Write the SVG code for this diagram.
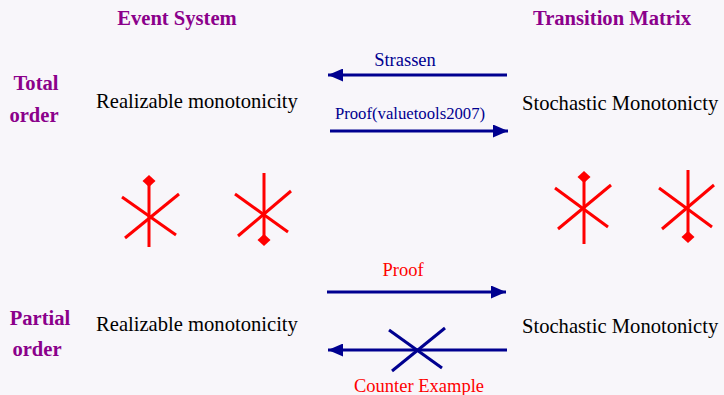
<svg xmlns="http://www.w3.org/2000/svg" width="724" height="395" viewBox="0 0 724 395">
<style>
.hdr{font-family:"Liberation Serif","Times New Roman",serif;font-weight:bold;font-size:20.6px;fill:#8b008b}
.node{font-family:"Liberation Serif","Times New Roman",serif;font-size:20.6px;fill:#000}
.lbl{font-family:"Liberation Serif","Times New Roman",serif;font-size:18.5px}
.navy{fill:#000090}
.red{fill:#ff0000}
.arr{stroke:#000090;stroke-width:3;fill:none}
.star{stroke:#ff0000;stroke-width:3;fill:none}
</style>
<defs>
<marker id="ah" markerUnits="userSpaceOnUse" markerWidth="15" markerHeight="13" refX="15" refY="6.5" orient="auto"><path d="M0,0 L15,6.5 L0,13 z" fill="#000090"/></marker>
<path id="dm" d="M0,-6 L6.5,0 L0,6 L-6.5,0 z" fill="#ff0000" stroke="none"/>
</defs>
<rect width="724" height="395" fill="#f8f6fa"/>
<g id="headers">
<text class="hdr" x="177" y="25" text-anchor="middle">Event System</text>
<text class="hdr" x="612" y="25" text-anchor="middle">Transition Matrix</text>
<text class="hdr" x="36" y="90" text-anchor="middle">Total</text>
<text class="hdr" x="34" y="122" text-anchor="middle">order</text>
<text class="hdr" x="40" y="325" text-anchor="middle">Partial</text>
<text class="hdr" x="37" y="356" text-anchor="middle">order</text>
</g>
<g id="es-total"><text class="node" x="96" y="108">Realizable monotonicity</text></g>
<g id="tm-total"><text class="node" x="522" y="110">Stochastic Monotonicty</text></g>
<g id="es-partial"><text class="node" x="96" y="331">Realizable monotonicity</text></g>
<g id="tm-partial"><text class="node" x="522" y="333">Stochastic Monotonicty</text></g>
<g id="connectors">
<line class="arr" x1="507" y1="75" x2="328" y2="75" marker-end="url(#ah)"/>
<text class="lbl navy" x="405" y="66" text-anchor="middle">Strassen</text>
<line class="arr" x1="330" y1="131" x2="508" y2="131" marker-end="url(#ah)"/>
<text class="lbl navy" x="410" y="119" text-anchor="middle" style="font-size:16.7px">Proof(valuetools2007)</text>
<line class="arr" x1="327" y1="292" x2="506" y2="292" marker-end="url(#ah)"/>
<text class="lbl red" x="403" y="276" text-anchor="middle">Proof</text>
<line class="arr" x1="507" y1="350" x2="328" y2="350" marker-end="url(#ah)"/>
<line class="arr" x1="389" y1="330" x2="442" y2="368"/>
<line class="arr" x1="392" y1="371" x2="445" y2="328"/>
<text class="lbl red" x="419" y="392" text-anchor="middle">Counter Example</text>
</g>
<g id="star1" class="star">
<line x1="149" y1="247" x2="149" y2="180"/>
<line x1="122" y1="197" x2="176" y2="235"/>
<line x1="125" y1="238" x2="179" y2="194"/>
<use href="#dm" x="149" y="181"/>
</g>
<g id="star2" class="star">
<line x1="264" y1="173" x2="264" y2="240"/>
<line x1="235" y1="194" x2="288" y2="232"/>
<line x1="238" y1="236" x2="291" y2="191"/>
<use href="#dm" x="264" y="240"/>
</g>
<g id="star3" class="star">
<line x1="584" y1="244" x2="584" y2="177"/>
<line x1="555" y1="188" x2="608" y2="227"/>
<line x1="558" y1="229" x2="611" y2="185"/>
<use href="#dm" x="584" y="177"/>
</g>
<g id="star4" class="star">
<line x1="688" y1="170" x2="688" y2="237"/>
<line x1="659" y1="188" x2="712" y2="227"/>
<line x1="662" y1="229" x2="714" y2="185"/>
<use href="#dm" x="688" y="237"/>
</g>
</svg>
